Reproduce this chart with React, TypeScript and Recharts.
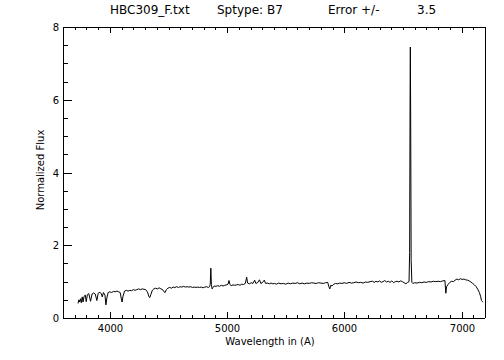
import React from "react";
import { LineChart, Line, XAxis, YAxis } from "recharts";

// spectrum (Angstrom, normalized flux)
const wavelength = [
  3728, 3736, 3742, 3750, 3756, 3764, 3771, 3780, 3790, 3798, 3808, 3820, 3835, 3848, 3862, 3875,
  3889, 3900, 3915, 3928, 3935, 3945, 3958, 3966, 3974, 3985, 4000, 4015, 4030, 4045, 4060, 4075,
  4088, 4098, 4104, 4112, 4125, 4140, 4155, 4170, 4185, 4200, 4215, 4230, 4245, 4260, 4275, 4290,
  4305, 4320, 4332, 4340, 4350, 4362, 4375, 4390, 4405, 4420, 4435, 4450, 4462, 4471, 4482, 4495,
  4510, 4525, 4540, 4555, 4570, 4585, 4600, 4615, 4630, 4645, 4660, 4675, 4690, 4705, 4720, 4735,
  4750, 4765, 4780, 4795, 4810, 4825, 4840, 4850, 4856, 4861, 4866, 4872, 4880, 4890, 4905, 4920,
  4935, 4950, 4965, 4980, 4995, 5008, 5016, 5024, 5035, 5050, 5065, 5080, 5095, 5110, 5125, 5140,
  5155, 5167, 5175, 5190, 5205, 5220, 5235, 5245, 5260, 5276, 5288, 5300, 5317, 5328, 5345, 5360,
  5375, 5390, 5405, 5420, 5440, 5460, 5480, 5500, 5520, 5540, 5560, 5580, 5600, 5620, 5640, 5660,
  5680, 5700, 5720, 5740, 5760, 5780, 5800, 5820, 5840, 5858, 5868, 5876, 5884, 5895, 5910, 5925,
  5940, 5960, 5980, 6000, 6020, 6040, 6060, 6080, 6100, 6120, 6140, 6160, 6180, 6200, 6220, 6240,
  6255, 6270, 6285, 6300, 6315, 6330, 6345, 6360, 6375, 6390, 6405, 6420, 6435, 6450, 6465, 6480,
  6495, 6510, 6525, 6540, 6552, 6557, 6561, 6563, 6566, 6570, 6576, 6585, 6600, 6620, 6640, 6660,
  6680, 6700, 6720, 6740, 6760, 6780, 6800, 6820, 6840, 6858, 6866, 6872, 6885, 6900, 6915, 6930,
  6945, 6960, 6975, 6990, 7005, 7020, 7035, 7050, 7065, 7080, 7095, 7110, 7125, 7140, 7152, 7162,
  7170, 7178, 7184,
];

const flux = [
  0.40, 0.50, 0.44, 0.53, 0.42, 0.58, 0.44, 0.60, 0.63, 0.45, 0.64, 0.67, 0.46, 0.66, 0.69, 0.66,
  0.48, 0.68, 0.71, 0.66, 0.58, 0.70, 0.63, 0.36, 0.55, 0.70, 0.72, 0.70, 0.73, 0.72, 0.74, 0.72,
  0.70, 0.52, 0.44, 0.60, 0.74, 0.76, 0.74, 0.76, 0.75, 0.78, 0.76, 0.78, 0.80, 0.78, 0.80, 0.79,
  0.78, 0.72, 0.60, 0.56, 0.65, 0.76, 0.80, 0.82, 0.80, 0.83, 0.80, 0.78, 0.72, 0.70, 0.78, 0.82,
  0.84, 0.82, 0.85, 0.84, 0.86, 0.84, 0.86, 0.85, 0.87, 0.85, 0.86, 0.85, 0.86, 0.84, 0.85, 0.84,
  0.85, 0.84, 0.85, 0.83, 0.85, 0.86, 0.84, 0.86, 0.92, 1.37, 0.92, 0.80, 0.84, 0.88, 0.87, 0.89,
  0.87, 0.90, 0.88, 0.90, 0.91, 0.93, 1.03, 0.92, 0.89, 0.91, 0.90, 0.91, 0.92, 0.90, 0.93, 0.92,
  0.95, 1.12, 0.96, 0.94, 0.97, 0.95, 1.04, 0.95, 0.97, 1.05, 0.95, 0.97, 1.04, 0.95, 0.96, 0.94,
  0.96, 0.94, 0.95, 0.93, 0.96, 0.94, 0.95, 0.93, 0.96, 0.94, 0.96, 0.95, 0.97, 0.94, 0.96, 0.94,
  0.96, 0.95, 0.97, 0.96, 0.95, 0.97, 0.96, 0.95, 0.97, 0.98, 0.86, 0.80, 0.90, 0.88, 0.93, 0.95,
  0.94, 0.96, 0.95, 0.97, 0.95, 0.98, 0.96, 0.97, 0.99, 0.97, 0.98, 0.96, 0.99, 0.98, 1.00, 1.01,
  0.98, 1.01, 0.99, 1.02, 0.98, 1.00, 1.03, 0.99, 1.01, 0.98, 1.02, 0.97, 1.00, 1.01, 0.99, 1.02,
  1.00, 0.97, 0.94, 0.98, 1.00, 1.80, 6.20, 7.45, 5.50, 1.60, 0.98, 0.95, 0.97, 0.96, 0.98, 0.97,
  0.99, 0.98, 1.00, 0.99, 1.01, 1.00, 1.01, 1.00, 1.02, 1.03, 0.68, 0.86, 0.92, 0.98, 1.01, 1.00,
  1.04, 1.07, 1.05, 1.08, 1.06, 1.07, 1.05, 1.04, 1.02, 0.99, 0.95, 0.91, 0.86, 0.78, 0.70, 0.60,
  0.48, 0.45, 0.44,
];

const xTicks = [
  3700, 3800, 3900, 4000, 4100, 4200, 4300, 4400, 4500, 4600, 4700, 4800, 4900, 5000, 5100, 5200,
  5300, 5400, 5500, 5600, 5700, 5800, 5900, 6000, 6100, 6200, 6300, 6400, 6500, 6600, 6700, 6800,
  6900, 7000, 7100,
];
const xLabels = [4000, 5000, 6000, 7000];
const yTicks = [0, 0.5, 1, 1.5, 2, 2.5, 3, 3.5, 4, 4.5, 5, 5.5, 6, 6.5, 7, 7.5, 8];
const yLabels = [0, 2, 4, 6, 8];

const titleParts = [
  { text: "HBC309_F.txt", left: 110 },
  { text: "Sptype: B7", left: 217 },
  { text: "Error +/-", left: 328 },
  { text: "3.5", left: 417 },
];
const xTitle = "Wavelength in (A)";
const yTitle = "Normalized Flux";

const data = wavelength.map((w, i) => ({ w, f: flux[i] }));

const font = "'DejaVu Sans', sans-serif";
const ink = "#000";

// tick marks drawn as 1px filled rects, pointing into the plot (IDL style)
function BottomTick(props: any) {
  const x = Math.round(Number(props.x));
  const y = Math.round(Number(props.y));
  const v = props.payload.value;
  const major = xLabels.includes(v);
  const len = major ? 6 : 3;
  return (
    <g>
      <rect x={x} y={y - len} width={1} height={len} fill={ink} stroke="none" />
      {major && (
        <text x={x + 0.5} y={y + 14} textAnchor="middle" fontSize={10} fontFamily={font} fill={ink} stroke="none">
          {v}
        </text>
      )}
    </g>
  );
}

function TopTick(props: any) {
  const x = Math.round(Number(props.x));
  const y = Math.round(Number(props.y));
  const len = xLabels.includes(props.payload.value) ? 6 : 3;
  return <rect x={x} y={y} width={1} height={len} fill={ink} stroke="none" />;
}

function LeftTick(props: any) {
  const x = Math.round(Number(props.x));
  const y = Math.round(Number(props.y));
  const v = props.payload.value;
  const major = yLabels.includes(v);
  const len = major ? 9 : 5;
  return (
    <g>
      <rect x={x} y={y} width={len} height={1} fill={ink} stroke="none" />
      {major && (
        <text x={x - 4} y={y} dy="0.36em" textAnchor="end" fontSize={10} fontFamily={font} fill={ink} stroke="none">
          {v}
        </text>
      )}
    </g>
  );
}

function RightTick(props: any) {
  const x = Math.round(Number(props.x));
  const y = Math.round(Number(props.y));
  const len = yLabels.includes(props.payload.value) ? 9 : 5;
  return <rect x={x - len} y={y} width={len} height={1} fill={ink} stroke="none" />;
}

const axisLine = { stroke: ink, shapeRendering: "crispEdges" };

export default function App() {
  return (
    <div style={{ position: "absolute", left: 0, top: 0, width: 504, height: 360, background: "#fff" }}>
      <LineChart width={504} height={360} data={data} margin={{ top: 17, right: 9, bottom: 12, left: 23 }}>
        <XAxis
          dataKey="w"
          type="number"
          domain={[3600, 7200]}
          ticks={xTicks}
          interval={0}
          height={30}
          tickSize={0}
          tickMargin={0}
          tickLine={false}
          axisLine={axisLine}
          tick={BottomTick}
        />
        <XAxis
          xAxisId="top"
          orientation="top"
          dataKey="w"
          type="number"
          domain={[3600, 7200]}
          ticks={xTicks}
          interval={0}
          height={10}
          tickSize={0}
          tickMargin={0}
          tickLine={false}
          axisLine={axisLine}
          tick={TopTick}
        />
        <YAxis
          type="number"
          domain={[0, 8]}
          ticks={yTicks}
          interval={0}
          width={40}
          tickSize={0}
          tickMargin={0}
          tickLine={false}
          axisLine={axisLine}
          tick={LeftTick}
        />
        <YAxis
          yAxisId="right"
          orientation="right"
          type="number"
          domain={[0, 8]}
          ticks={yTicks}
          interval={0}
          width={10}
          tickSize={0}
          tickMargin={0}
          tickLine={false}
          axisLine={axisLine}
          tick={RightTick}
        />
        <Line
          type="linear"
          dataKey="f"
          stroke={ink}
          strokeWidth={1}
          dot={false}
          activeDot={false}
          isAnimationActive={false}
        />
      </LineChart>

      {titleParts.map((p) => (
        <div
          key={p.text}
          style={{ position: "absolute", left: p.left, top: 3, fontFamily: font, fontSize: 12, color: ink, whiteSpace: "pre" }}
        >
          {p.text}
        </div>
      ))}
      <div
        style={{ position: "absolute", left: 0, width: 540, textAlign: "center", top: 336, fontFamily: font, fontSize: 10, color: ink }}
      >
        {xTitle}
      </div>
      <div
        style={{
          position: "absolute",
          left: 40,
          top: 170,
          transform: "translate(-50%, -50%) rotate(-90deg)",
          fontFamily: font,
          fontSize: 10,
          color: ink,
          whiteSpace: "nowrap",
        }}
      >
        {yTitle}
      </div>
    </div>
  );
}
